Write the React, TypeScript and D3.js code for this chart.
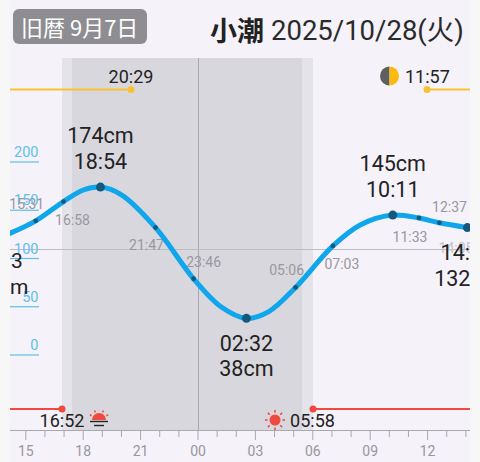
import React from "react";
import * as d3 from "d3";

// hours relative to 00:00 of the date shown, cm
const tideHours = [-9.84, -8.48, -7.03, -6.0, -5.1, -4.0, -2.22, -0.23, 1.2, 2.53, 3.7, 5.1, 7.05, 8.5, 10.18, 11.55, 12.62, 14.08];
const tideValues = [126, 139, 159, 171, 174, 166, 132, 79, 50, 38, 45, 70, 113, 135, 145, 142, 137, 132];

const extremeTimes = [-5.1, 2.53, 10.18, 14.08];
const extremeCm = [174, 38, 145, 132];
const extremeTimeLabels = ["18:54", "02:32", "10:11", "14:05"];
const extremeCmLabels = ["174cm", "38cm", "145cm", "132cm"];

const midTimes = [-8.48, -7.03, -2.22, -0.23, 5.1, 7.05, 11.55, 12.62];
const midCm = [139, 159, 132, 79, 70, 113, 142, 137];
const midLabels = ["15:31", "16:58", "21:47", "23:46", "05:06", "07:03", "11:33", "12:37"];
const midLabelDx = [-9, 9, -9, 10, -9, 9, -9, 10];
const midLabelY = [209, 225, 250, 267, 275, 269, 242, 212];

const yTicks = [0, 50, 100, 150, 200];
const hourTicks = d3.range(-9, 15);
const hourLabels = ["15", "18", "21", "00", "03", "06", "09", "12"];

const W = 480;
const H = 462;
const left = 10;
const right = 470;
const sans = "Roboto, 'Noto Sans CJK JP', sans-serif";
const jp = "'Noto Sans CJK JP', Roboto, sans-serif";

const x = d3.scaleLinear().domain([0, 3]).range([198, 255.4]);
const y = d3.scaleLinear().domain([0, 200]).range([355, 162]);

const line = d3
  .line<number>()
  .x((d) => x(d))
  .y((_, i) => y(tideValues[i]))
  .curve(d3.curveCatmullRom.alpha(0.5));

const App = () => {
  const sunRays = d3.range(8).map((i) => (i * Math.PI) / 4);
  return (
    <svg
      width={W}
      height={H}
      style={{ position: "absolute", left: 0, top: 0, display: "block" }}
    >
      <defs>
        <clipPath id="plot">
          <rect x={left} y={0} width={right - left} height={H} />
        </clipPath>
      </defs>
      <rect width={W} height={H} fill="#f7f7f8" />
      <rect x={left} width={right - left} height={H} fill="#f5f2fa" />

      {/* header */}
      <rect x={13} y={9} width={134} height={35} rx={6} fill="#8e8d92" />
      <text x={21} y={36} fontSize={22} fill="#fff" fontFamily={jp}>
        旧暦 9月7日
      </text>
      <text x={210} y={41} fontSize={27} fontWeight={700} fill="#222" fontFamily={jp}>
        小潮
      </text>
      <text x={271} y={40} fontSize={27.5} fill="#2a2a2a" fontFamily={sans}>
        2025/10/28(火)
      </text>

      {/* night bands */}
      <rect x={62} y={58} width={251} height={372} fill="#e5e3ea" />
      <rect x={72} y={58} width={230} height={372} fill="#d9d7de" />
      <line x1={198.5} x2={198.5} y1={58} y2={430} stroke="#a9a8ae" strokeWidth={1} />
      <line x1={left} x2={right} y1={249.5} y2={249.5} stroke="#bdbcc2" strokeWidth={1} />

      {/* moon row */}
      <line x1={left} x2={131} y1={89.5} y2={89.5} stroke="#f8c131" strokeWidth={2} />
      <circle cx={131} cy={89.5} r={3.5} fill="#f8c131" />
      <text x={131} y={83} textAnchor="middle" fontSize={18} fill="#222" fontFamily={sans}>
        20:29
      </text>
      <line x1={427} x2={right} y1={89.5} y2={89.5} stroke="#f8c131" strokeWidth={2} />
      <circle cx={427} cy={89.5} r={3.5} fill="#f8c131" />
      <text x={405} y={83} fontSize={18} fill="#222" fontFamily={sans}>
        11:57
      </text>
      <path d="M389.5,66.5 a9.5,9.5 0 0 0 0,19 z" fill="#5f5f5f" />
      <path d="M389.5,66.5 a9.5,9.5 0 0 1 0,19 z" fill="#fdbb11" />

      {/* y axis */}
      {yTicks.map((t) => (
        <g key={t}>
          <line x1={left} x2={39} y1={y(t)} y2={y(t)} stroke="#5cc0ea" strokeWidth={1.2} />
          <text x={38.5} y={y(t) - 5} textAnchor="end" fontSize={14.5} fill="#5cc0ea" fontFamily={sans}>
            {t}
          </text>
        </g>
      ))}
      <text x={11} y={268} fontSize={21} fill="#222" fontFamily={sans}>
        3
      </text>
      <text x={10} y={294} fontSize={21} fill="#222" fontFamily={sans}>
        m
      </text>

      {/* sun row */}
      <line x1={left} x2={62} y1={409} y2={409} stroke="#f04a3e" strokeWidth={2} />
      <circle cx={62} cy={409} r={3.5} fill="#f04a3e" />
      <text x={62} y={427} textAnchor="middle" fontSize={18} fill="#222" fontFamily={sans}>
        16:52
      </text>
      <path d="M92,420 a7,7 0 0 1 14,0 z" fill="#f04a3e" />
      {[-60, -25, 25, 60].map((a) => (
        <line
          key={a}
          x1={99 + 8.5 * Math.sin((a * Math.PI) / 180)}
          y1={420 - 8.5 * Math.cos((a * Math.PI) / 180)}
          x2={99 + 10.5 * Math.sin((a * Math.PI) / 180)}
          y2={420 - 10.5 * Math.cos((a * Math.PI) / 180)}
          stroke="#f04a3e"
          strokeWidth={1.6}
        />
      ))}
      <line x1={90} x2={108} y1={421.5} y2={421.5} stroke="#222" strokeWidth={1.4} />
      <line x1={94} x2={104} y1={425.5} y2={425.5} stroke="#222" strokeWidth={1.4} />

      <line x1={313} x2={right} y1={409} y2={409} stroke="#f04a3e" strokeWidth={2} />
      <circle cx={313} cy={409} r={3.5} fill="#f04a3e" />
      <circle cx={275} cy={420} r={5.5} fill="#f04a3e" />
      {sunRays.map((a) => (
        <line
          key={a}
          x1={275 + 7.5 * Math.cos(a)}
          y1={420 + 7.5 * Math.sin(a)}
          x2={275 + 10 * Math.cos(a)}
          y2={420 + 10 * Math.sin(a)}
          stroke="#f04a3e"
          strokeWidth={1.6}
        />
      ))}
      <text x={312.5} y={427} textAnchor="middle" fontSize={18} fill="#222" fontFamily={sans}>
        05:58
      </text>

      <g clipPath="url(#plot)">
        {/* mid-tide labels */}
        {midLabels.map((l, i) => (
          <text
            key={l}
            x={x(midTimes[i]) + midLabelDx[i]}
            y={midLabelY[i]}
            textAnchor="middle"
            fontSize={14}
            fill="#98979c"
            fontFamily={sans}
          >
            {l}
          </text>
        ))}
        <text x={456} y={253} textAnchor="middle" fontSize={14} fill="#c4c3c8" fontFamily={sans}>
          14:05
        </text>

        {/* tide curve */}
        <path d={line(tideHours) ?? ""} fill="none" stroke="#0fa6ec" strokeWidth={5} strokeLinecap="round" />
        {midTimes.map((t, i) => (
          <circle key={t} cx={x(t)} cy={y(midCm[i])} r={2.4} fill="#14587e" />
        ))}
        {extremeTimes.map((t, i) => (
          <circle key={t} cx={x(t)} cy={y(extremeCm[i])} r={4.5} fill="#14587e" />
        ))}

        {/* extremes */}
        {extremeTimes.map((t, i) => {
          const below = i === 1 || i === 3;
          const y1 = [143, 351, 171, 260][i];
          const y2 = [169, 376, 197, 286][i];
          return (
            <g key={t} fontSize={21.5} fill="#222" fontFamily={sans} textAnchor="middle">
              <text x={x(t)} y={y1}>
                {below ? extremeTimeLabels[i] : extremeCmLabels[i]}
              </text>
              <text x={x(t)} y={y2}>
                {below ? extremeCmLabels[i] : extremeTimeLabels[i]}
              </text>
            </g>
          );
        })}
      </g>

      {/* x axis */}
      <line x1={left} x2={right} y1={430.5} y2={430.5} stroke="#a9a8ae" strokeWidth={1} />
      {hourTicks.map((h) => {
        const major = (h + 9) % 3 === 0;
        return (
          <line
            key={h}
            x1={x(h)}
            x2={x(h)}
            y1={430}
            y2={major ? 440 : 437}
            stroke="#a9a8ae"
            strokeWidth={1}
          />
        );
      })}
      {hourLabels.map((l, i) => (
        <text
          key={l}
          x={x(-9 + i * 3)}
          y={456}
          textAnchor="middle"
          fontSize={14}
          fill="#98979c"
          fontFamily={sans}
        >
          {l}
        </text>
      ))}
    </svg>
  );
};

export default App;
